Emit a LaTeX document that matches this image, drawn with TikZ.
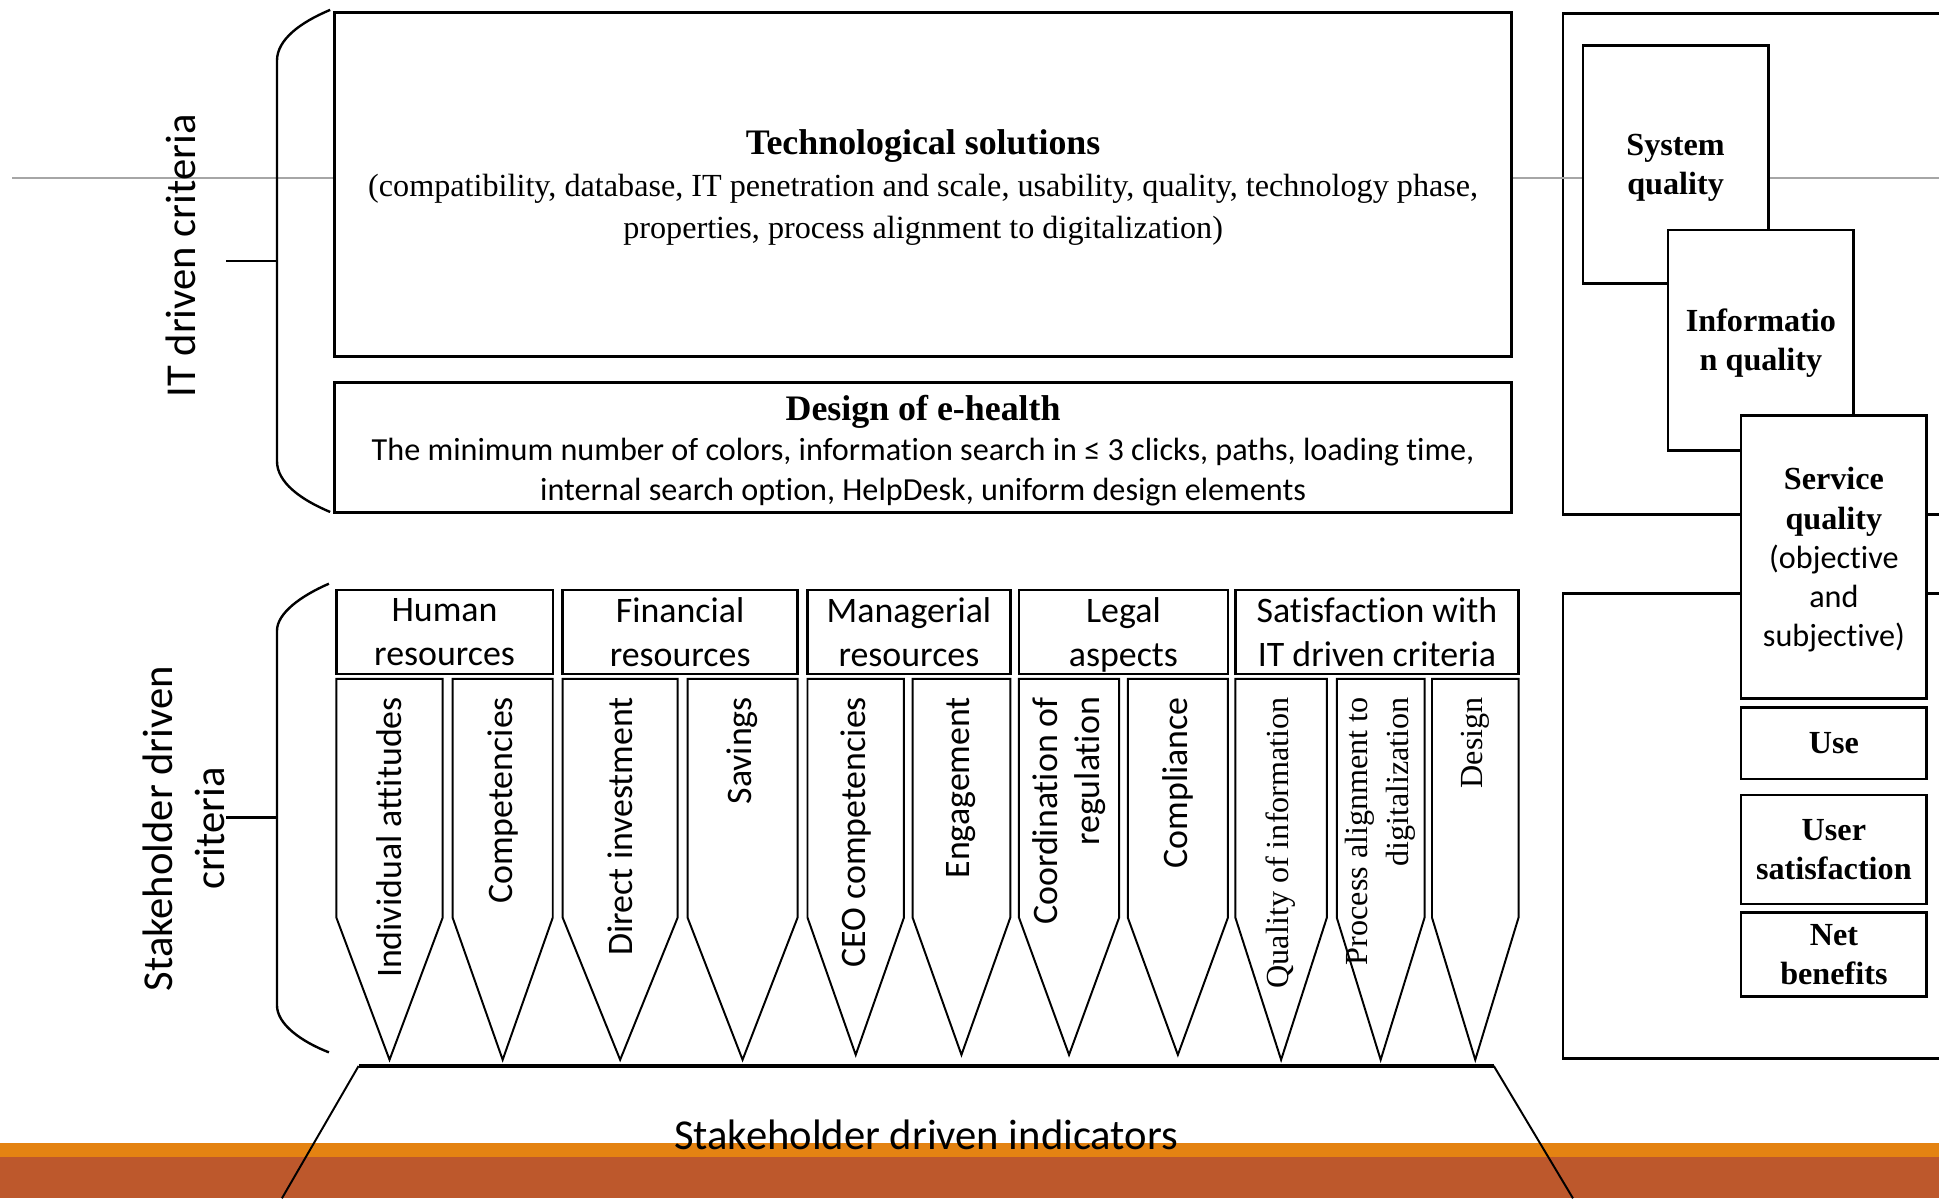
\documentclass[tikz,border=0pt]{standalone}
\usepackage{fontspec}
\setmainfont{Liberation Serif}
\setsansfont{Carlito}[Ligatures=NoCommon]
\definecolor{barlight}{HTML}{E48312}
\definecolor{bardark}{HTML}{BD582C}
\definecolor{linegray}{HTML}{A6A6A6}
\begin{document}
\begin{tikzpicture}[x=0.01cm,y=-0.01cm,
  box/.style={draw,line width=0.6pt,fill=white,inner sep=0pt,align=center,text depth=0pt},
  frame/.style={draw,line width=0.6pt,inner sep=0pt},
  pencil/.style={draw,line width=0.45pt,fill=white,line join=miter},
  brace/.style={draw,line width=0.55pt},
  big/.style={font=\sffamily\fontsize{9.8pt}{12pt}\selectfont},
  head/.style={box,font=\sffamily\fontsize{8.25pt}{10pt}\selectfont,minimum height=0.68cm},
  rbox/.style={box,minimum width=1.5cm,font=\rmfamily\bfseries\fontsize{7.4pt}{9pt}\selectfont},
  slab/.style={rotate=90,anchor=east,align=right,inner sep=0pt,font=\sffamily\fontsize{8.25pt}{9.7pt}\selectfont},
  rlab/.style={slab,font=\rmfamily\fontsize{7.4pt}{9.4pt}\selectfont}]
\useasboundingbox (0,0) rectangle (1568,969);
\fill[barlight] (0,924) rectangle (1568,936);
\fill[bardark] (0,936) rectangle (1568,969);
\node[frame,minimum width=3.36cm,minimum height=4.05cm] (dmtop) at (1432,213.5) {};
\node[frame,minimum width=3.36cm,minimum height=3.76cm] (dmbot) at (1432,668) {};
\coordinate (gl) at (10,144);
\coordinate (gr) at (1568,144);
\path[draw,linegray,line width=0.4pt] (gl) -- (gr);
% IT driven criteria
\node[box,minimum width=9.51cm,minimum height=2.78cm,font=\rmfamily\fontsize{7.4pt}{9.67pt}\selectfont] (tech) at (746.5,149) {{\bfseries\fontsize{8.25pt}{9.67pt}\selectfont Technological solutions}\\(compatibility, database, IT penetration and scale, usability, quality, technology phase,\\properties, process alignment to digitalization)};
\node[box,minimum width=9.51cm,minimum height=1.05cm,font=\sffamily\fontsize{7.4pt}{9.2pt}\selectfont] (design) at (746.5,362) {{\rmfamily\bfseries\fontsize{8.25pt}{9.4pt}\selectfont Design of e-health}\\The minimum number of colors, information search in ≤ 3 clicks, paths, loading time,\\internal search option, HelpDesk, uniform design elements};
\path[brace] (267,8) .. controls (243,18) and (224,32) .. (224,49) -- (224,373) .. controls (224,390) and (243,404) .. (267,414);
\coordinate (itt) at (183,211);
\coordinate (itb) at (224,211);
\path[brace] (itt) -- (itb);
\node[big,rotate=90] (itlab) at (146,207) {IT driven criteria};
% D&M success model
\node[rbox,minimum height=1.92cm] (sysq) at (1355,133) {System\\quality};
\node[rbox,minimum height=1.78cm] (infoq) at (1424,275) {Informatio\\n quality};
\node[rbox,minimum height=2.29cm] (servq) at (1483,450.5) {Service\\quality\\{\mdseries\sffamily (objective}\\{\mdseries\sffamily and}\\{\mdseries\sffamily subjective)}};
\node[rbox,minimum height=0.58cm] (use) at (1483,601) {Use};
\node[rbox,minimum height=0.88cm] (usat) at (1483,687) {User\\satisfaction};
\node[rbox,minimum height=0.68cm] (netb) at (1483,772) {Net\\benefits};
% stakeholder driven criteria
\path[brace] (266,472) .. controls (243,482) and (224,496) .. (224,510) -- (224,813) .. controls (224,828) and (243,842) .. (266,851);
\coordinate (sht) at (183,661);
\coordinate (shb) at (224,661);
\path[brace] (sht) -- (shb);
\node[big,rotate=90,align=center] (shlab) at (149,670) {Stakeholder driven\\criteria};
\node[head,minimum width=1.75cm] (human) at (359.5,511) {Human\\resources};
\node[head,minimum width=1.90cm] (fin) at (550,511) {Financial\\resources};
\node[head,minimum width=1.64cm] (man) at (735,511) {Managerial\\resources};
\node[head,minimum width=1.69cm] (legal) at (908.5,511) {Legal\\aspects};
\node[head,minimum width=2.29cm] (satit) at (1113.5,511) {Satisfaction with\\IT driven criteria};
\foreach \xl/\xr/\ty in {272/358/857,366/447/857,455/548/857,556/645/857,653/731/853,738/817/853,824/905/853,912/993/853,999/1073/857,1081/1152/857,1158/1228/857}
  \path[pencil] (\xl,549) -- (\xr,549) -- (\xr,742) -- ({(\xl+\xr)/2},\ty) -- (\xl,742) -- cycle;
\node[slab] (ia) at (315,563) {Individual attitudes};
\node[slab] (comp) at (406.5,563) {Competencies};
\node[slab] (dinv) at (501.5,563) {Direct investment};
\node[slab] (sav) at (600.5,563) {Savings};
\node[slab] (ceo) at (692,563) {CEO competencies};
\node[slab] (eng) at (777.5,563) {Engagement};
\node[slab] (coord) at (864.5,563) {Coordination of\\regulation};
\node[slab] (compl) at (952.5,563) {Compliance};
\node[rlab] (qinf) at (1036,563) {Quality of information};
\node[rlab] (palign) at (1116.5,563) {Process alignment to\\digitalization};
\node[rlab] (dsgn) at (1193,563) {Design};
% indicators
\coordinate (tl) at (290,862);
\coordinate (tr) at (1208,862);
\coordinate (bl) at (228,969);
\coordinate (br) at (1272,969);
\path[draw,line width=0.45pt] (bl) -- (tl);
\path[draw,line width=0.8pt] (tl) -- (tr);
\path[draw,line width=0.45pt] (tr) -- (br);
\node[big] (ind) at (749,918) {Stakeholder driven indicators};
\end{tikzpicture}
\end{document}
